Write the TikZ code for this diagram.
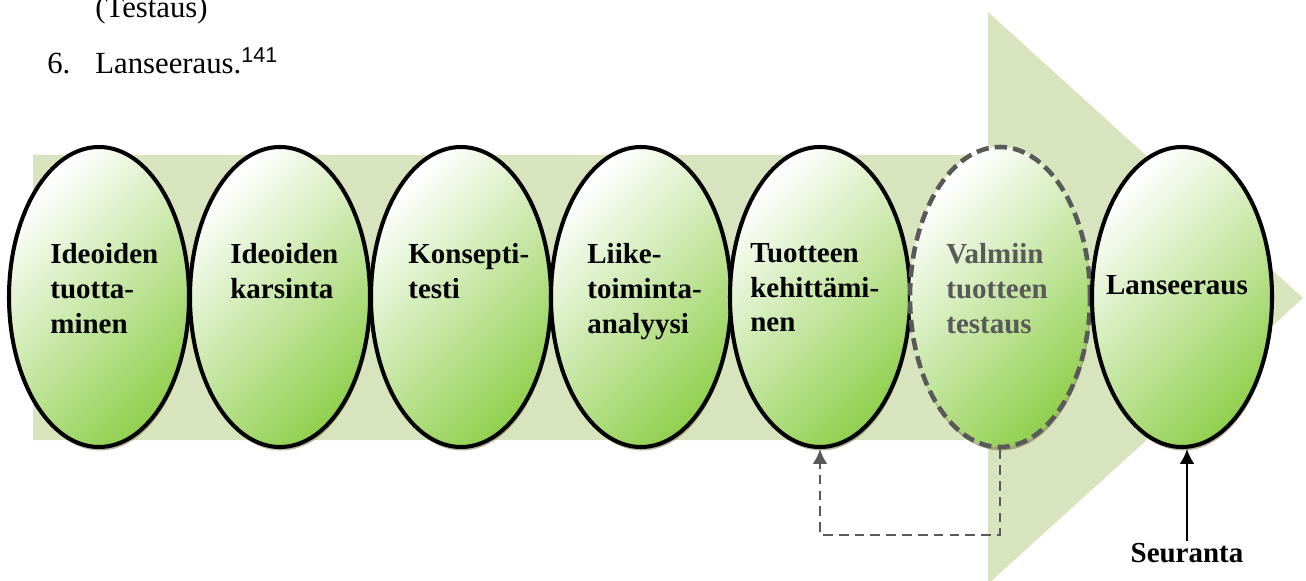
\documentclass[tikz,border=0pt]{standalone}
\usepackage{fontspec}
\setmainfont{Liberation Serif}
\newfontfamily\arialfont{Liberation Sans}
\usetikzlibrary{shapes.geometric,shadows,arrows.meta}
\definecolor{arrowgreen}{RGB}{215,228,189}
\definecolor{stepgreen}{RGB}{146,208,80}
\definecolor{darkgray}{RGB}{89,89,89}

\tikzset{
  stepoval/.style={ellipse,minimum width=180*0.02cm,minimum height=300*0.02cm,inner sep=0pt,
    shading=axis,top color=white,bottom color=stepgreen,shading angle=45,
    drop shadow={shadow xshift=0.6pt,shadow yshift=-2pt,fill=olive!60!black,opacity=0.45}},
  solidoval/.style={stepoval,draw=black,line width=2.3pt},
  dashoval/.style={stepoval,draw=darkgray,line width=2.6pt,dash pattern=on 7pt off 3.5pt},
  steptext/.style={anchor=north west,inner sep=0pt,align=left,font=\fontsize{16.5}{19.8}\selectfont\bfseries},
  bodytext/.style={anchor=base west,inner sep=0pt,font=\fontsize{17.5}{21}\selectfont},
}

\begin{document}
\begin{tikzpicture}[x=0.02cm,y=-0.02cm,>={Latex[length=8.5pt,width=8.5pt]}]
    \clip (0,0) rectangle (1306,581);

    % list text above the figure
    \node[bodytext] (prev) at (95,18) {(Testaus)};
    \node[bodytext] (num) at (47,74) {6.};
    \node[bodytext] (item) at (95,74) {Lanseeraus.\textsuperscript{\arialfont 141}};

    % background process arrow
    \fill[arrowgreen] (33,155) -- (988,155) -- (988,12) -- (1303,298)
        -- (988,584) -- (988,440) -- (33,440) -- cycle;

    % the seven phases
    \node[solidoval] (e1) at (99,297) {};
    \node[solidoval] (e2) at (280,297) {};
    \node[solidoval] (e3) at (461,297) {};
    \node[solidoval] (e4) at (641,297) {};
    \node[solidoval] (e5) at (820,297) {};
    \node[dashoval]  (e6) at (1000,297) {};
    \node[solidoval] (e7) at (1182,297) {};

    % phase labels
    \node[steptext] (t1) at (50,243) {Ideoiden\\tuotta-\\minen};
    \node[steptext] (t2) at (230,243) {Ideoiden\\karsinta};
    \node[steptext] (t3) at (408,243) {Konsepti-\\testi};
    \node[steptext] (t4) at (587,243) {Liike-\\toiminta-\\analyysi};
    \node[steptext] (t5) at (750,243) {Tuotteen\\kehittämi-\\nen};
    \node[steptext,text=darkgray] (t6) at (946,243) {Valmiin\\tuotteen\\testaus};
    \node[steptext,anchor=center] (t7) at (1177,285) {Lanseeraus};

    % feedback loop from testing back to development
    \coordinate (loopa) at (e6.south |- 0,535);
    \coordinate (loopb) at (e5.south |- 0,535);
    \draw[->,darkgray,line width=1.5pt,dash pattern=on 5.5pt off 3.5pt]
        (e6.south) -- (loopa) -- (loopb) -- (e5.south);

    % follow-up
    \node[font=\fontsize{16.5}{19.8}\selectfont\bfseries,inner sep=1pt] (follow) at (1187,553) {Seuranta};
    \draw[->,line width=1.3pt] (follow.north) -- (follow.north |- e7.south);
\end{tikzpicture}
\end{document}
